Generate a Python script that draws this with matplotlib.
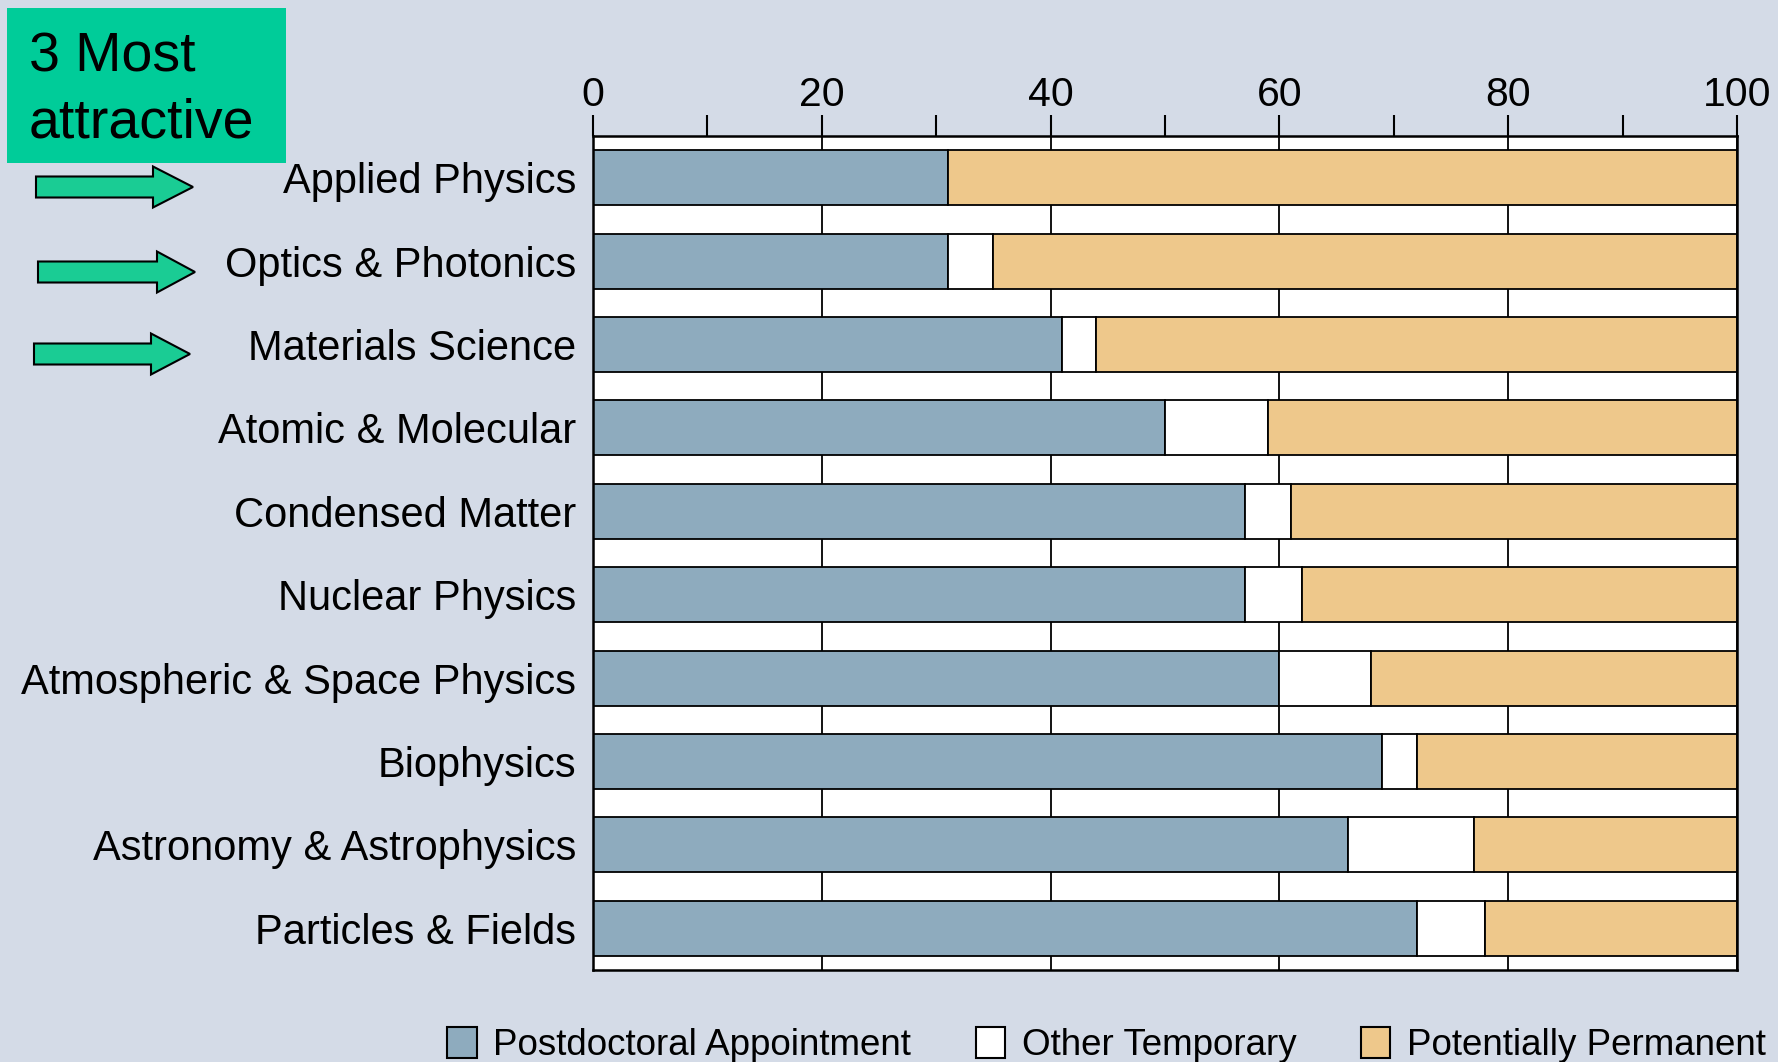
import matplotlib
matplotlib.use("Agg")
import matplotlib.pyplot as plt
from matplotlib.patches import Patch, Rectangle, Polygon
import numpy as np

plt.rcParams['font.family'] = ['Liberation Sans', 'DejaVu Sans']

categories = ["Applied Physics", "Optics & Photonics", "Materials Science",
              "Atomic & Molecular", "Condensed Matter", "Nuclear Physics",
              "Atmospheric & Space Physics", "Biophysics",
              "Astronomy & Astrophysics", "Particles & Fields"]
postdoc = [31, 31, 41, 50, 57, 57, 60, 69, 66, 72]
other_temp = [0, 4, 3, 9, 4, 5, 8, 3, 11, 6]
permanent = [69, 65, 56, 41, 39, 38, 32, 28, 23, 22]
series_names = ["Postdoctoral Appointment", "Other Temporary", "Potentially Permanent"]
x_ticks = [0, 20, 40, 60, 80, 100]
x_minor = [10, 30, 50, 70, 90]

bg = '#d4dbe7'
c_post = '#8eabbe'
c_other = '#ffffff'
c_perm = '#eec88b'

W, H = 1778, 1062
fig = plt.figure(figsize=(W / 100, H / 100), dpi=100, facecolor=bg)

# decoration overlay (pixel coordinates)
ov = fig.add_axes([0, 0, 1, 1], zorder=0)
ov.set_xlim(0, W)
ov.set_ylim(H, 0)
ov.axis('off')
ov.add_patch(Rectangle((7, 8), 279, 155, facecolor='#00cc99', edgecolor='none'))
ov.text(29, 72, "3 Most", fontsize=40, va='baseline', ha='left', color='black')
ov.text(29, 137, "attractive", fontsize=40, va='baseline', ha='left', color='black')
for x0, xs, xt, yc in [(36, 153, 193, 187), (38, 157, 195, 272), (34, 151, 190, 354)]:
    pts = [(x0, yc - 10.5), (xs, yc - 10.5), (xs, yc - 20.5), (xt, yc),
           (xs, yc + 20.5), (xs, yc + 10.5), (x0, yc + 10.5)]
    ov.add_patch(Polygon(pts, closed=True, facecolor='#1acc94', edgecolor='black', lw=1.5))

# main axes
left, right, top, bottom = 593, 1737, 136, 970
ax = fig.add_axes([left / W, 1 - bottom / H, (right - left) / W, (bottom - top) / H], zorder=1)
ax.set_facecolor('white')
y = np.arange(len(categories))
h = 0.66
p = np.array(postdoc)
o = np.array(other_temp)
q = np.array(permanent)
ax.barh(y, p, height=h, color=c_post, edgecolor='black', lw=1.3, label=series_names[0], zorder=3)
ax.barh(y, o, left=p, height=h, color=c_other, edgecolor='black', lw=1.3, label=series_names[1], zorder=3)
ax.barh(y, q, left=p + o, height=h, color=c_perm, edgecolor='black', lw=1.3, label=series_names[2], zorder=3)

ax.set_xlim(0, 100)
ax.set_ylim(len(categories) - 0.5, -0.5)
ax.set_yticks(y)
ax.set_yticklabels(categories, fontsize=30)
ax.tick_params(axis='y', length=0, pad=12)
ax.xaxis.tick_top()
ax.set_xticks(x_ticks)
ax.set_xticks(x_minor, minor=True)
ax.set_xticklabels([str(v) for v in x_ticks], fontsize=29.5)
ax.tick_params(axis='x', which='both', direction='out', length=15, width=1.5, pad=0.5)
ax.grid(axis='x', which='major', color='black', lw=1.3, zorder=1)
ax.set_axisbelow(True)
for s in ax.spines.values():
    s.set_color('black')
    s.set_linewidth(1.8)
    s.set_zorder(5)

handles = [Patch(facecolor=c, edgecolor='black', lw=1.5) for c in (c_post, c_other, c_perm)]
fig.legend(handles, series_names, loc='center', ncol=3, frameon=False,
           bbox_to_anchor=((451 + 1762) / 2 / W, 1 - 1045 / H),
           fontsize=26.5, handlelength=0.8, handleheight=0.9, handletextpad=0.45,
           columnspacing=1.75)

fig.savefig('out.png', dpi=100, facecolor=bg)
